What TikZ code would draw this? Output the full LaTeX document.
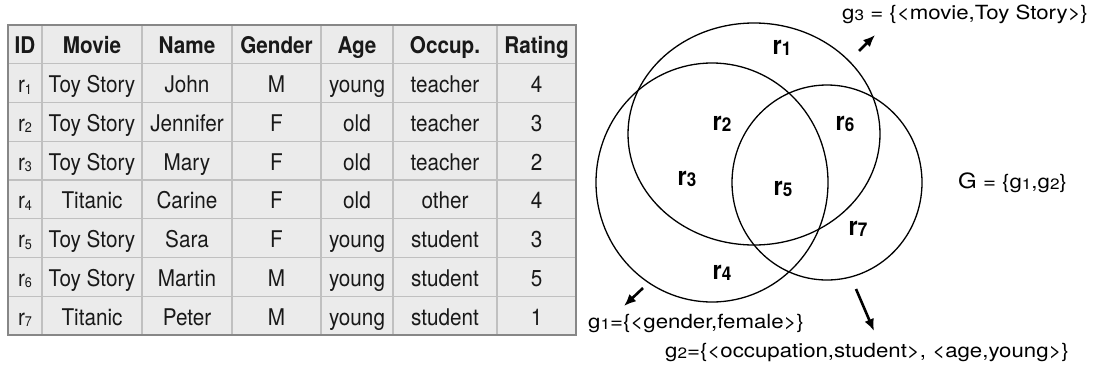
\documentclass[tikz,border=0pt]{standalone}
\usepackage{fontspec}
\setmainfont{TeX Gyre Heros}[FakeStretch=0.9]
\newfontfamily\lblfont{TeX Gyre Heros}[FakeStretch=1.14]
\usetikzlibrary{arrows.meta}
\definecolor{CellGray}{RGB}{235,235,235}
\definecolor{GridGray}{RGB}{192,192,192}
\definecolor{EdgeGray}{RGB}{135,135,135}
\newcommand{\idx}[2]{\raisebox{-1.5pt}{\fontsize{#1}{#1}\selectfont #2}}
\tikzset{
	>={Latex[length=12pt,width=10pt]},
	cell/.style={anchor=base, inner sep=0pt, text=black!90, font=\fontsize{23}{23}\selectfont},
	headcell/.style={cell, font=\fontsize{23}{23}\selectfont\bfseries},
	gridline/.style={GridGray, line width=1.2pt},
	region/.style={anchor=center, inner sep=0pt, font=\fontsize{26}{26}\selectfont\bfseries},
	setline/.style={black, line width=1.3pt},
	grouparrow/.style={black, line width=2.6pt, ->},
	grouplabel/.style={anchor=base west, inner sep=0pt, font=\lblfont\fontsize{19.5}{19.5}\selectfont},
}

\begin{document}
\begin{tikzpicture}[x=1pt,y=-1pt]
	\useasboundingbox (0,0) rectangle (1094,370);
	
	% the rating table
	\fill[CellGray] (8,25) rectangle (576,335);
	\foreach \x in {42,142,232,321,393,497}
		\draw[gridline] (\x,25) -- (\x,335);
	\foreach \k in {1,...,7}
		\draw[gridline] (8,{25+\k*38.75}) -- (576,{25+\k*38.75});
	\draw[EdgeGray, line width=1.6pt] (8,25) rectangle (576,335);
	
	\foreach \cx/\txt [count=\c] in {25/ID,92/Movie,187/Name,276.5/Gender,357/Age,445/Occup.,536.5/Rating}
		\node[headcell] (h\c) at (\cx,53.9) {\txt};
	
	\foreach \n/\mv/\nm/\gd/\ag/\oc/\rt in {
		1/Toy Story/John/M/young/teacher/4,
		2/Toy Story/Jennifer/F/old/teacher/3,
		3/Toy Story/Mary/F/old/teacher/2,
		4/Titanic/Carine/F/old/other/4,
		5/Toy Story/Sara/F/young/student/3,
		6/Toy Story/Martin/M/young/student/5,
		7/Titanic/Peter/M/young/student/1}{
		\pgfmathsetmacro\yb{25+(\n+0.5)*38.75+9.5}
		\node[cell] (c\n-1) at (25,\yb) {r\idx{14}{\n}};
		\node[cell] (c\n-2) at (92,\yb) {\mv};
		\node[cell] (c\n-3) at (187,\yb) {\nm};
		\node[cell] (c\n-4) at (276.5,\yb) {\gd};
		\node[cell] (c\n-5) at (357,\yb) {\ag};
		\node[cell] (c\n-6) at (445,\yb) {\oc};
		\node[cell] (c\n-7) at (536.5,\yb) {\rt};
	}
	
	% the three groups
	\draw[setline] (754,134) ellipse [x radius=126pt, y radius=111pt];
	\draw[setline] (712,182.5) ellipse [x radius=116pt, y radius=119.5pt];
	\draw[setline] (827,182.5) ellipse [x radius=95pt, y radius=97.5pt];
	
	\foreach \n/\px/\py in {1/782/48,2/722/124,6/845/124,3/687/179,5/783/189,7/858/229,4/722/273}
		\node[region] (r\n) at (\px,\py) {r\idx{19}{\n}};
	
	% group labels
	\node[grouplabel] (g3) at (842,19) {g\idx{15}{3} = \{<movie,Toy Story>\}};
	\node[grouplabel] (g1) at (588,328) {g\idx{15}{1}=\{<gender,female>\}};
	\node[grouplabel] (g2) at (665,357) {g\idx{15}{2}=\{<occupation,student>, <age,young>\}};
	\node[grouplabel] (gall) at (958,188) {{\fontsize{21}{21}\selectfont G} = \{g\idx{15}{1},g\idx{15}{2}\}};
	
	\coordinate (g3tail) at (859,51);
	\coordinate (g3tip) at (875,35);
	\coordinate (g1tail) at (643,288);
	\coordinate (g1tip) at (624,306);
	\coordinate (g2tail) at (856,289);
	\coordinate (g2tip) at (874,331);
	\draw[grouparrow] (g3tail) -- (g3tip);
	\draw[grouparrow] (g1tail) -- (g1tip);
	\draw[grouparrow] (g2tail) -- (g2tip);
\end{tikzpicture}
\end{document}
